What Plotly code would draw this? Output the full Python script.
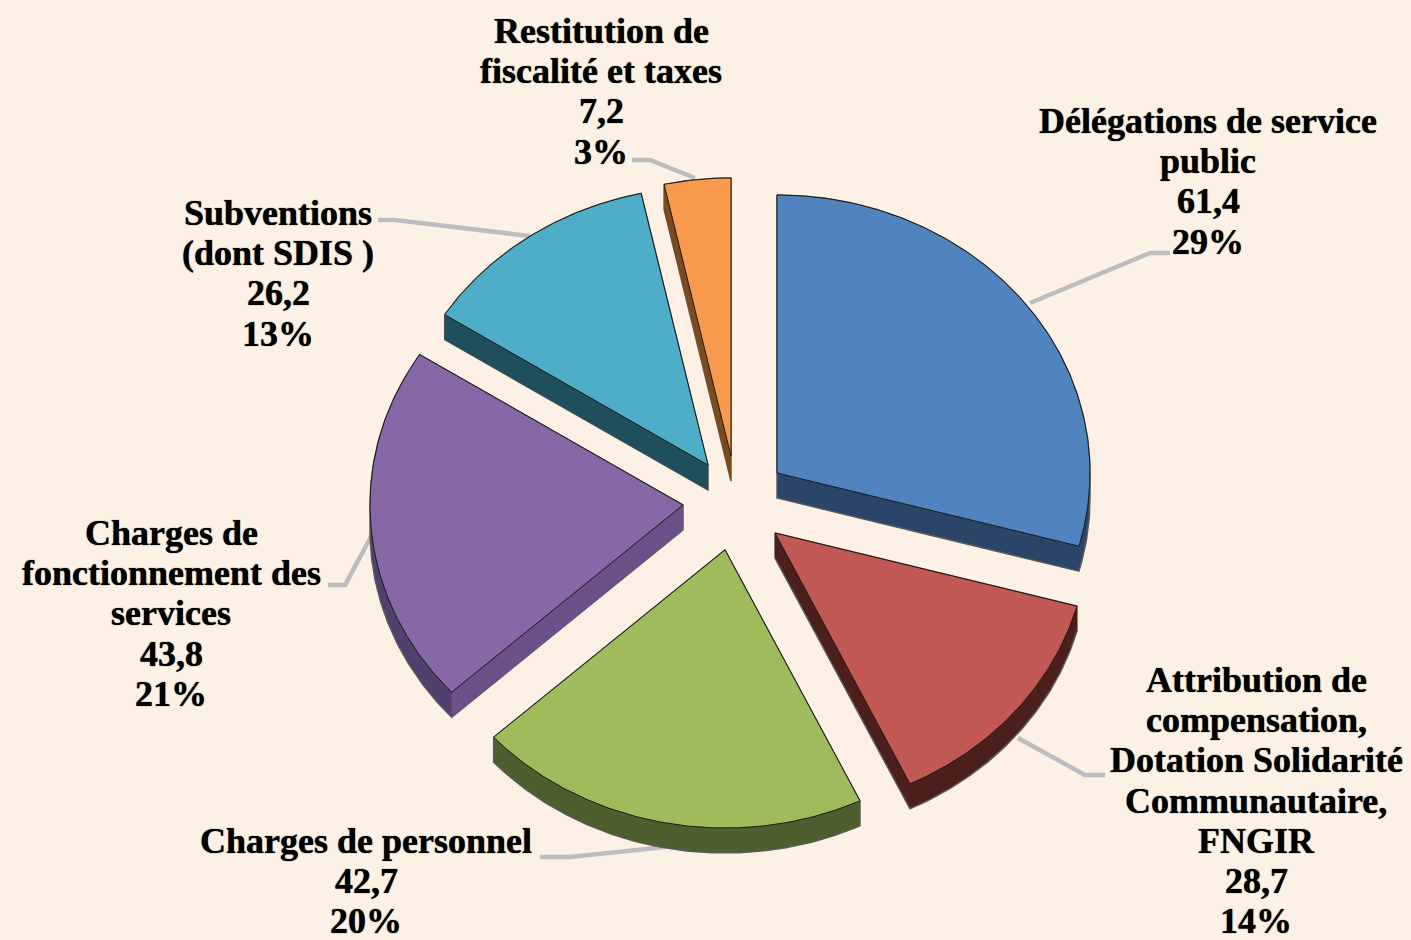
import math
import plotly.graph_objects as go

# ---- data ----
categories = ["Délégations de service<br>public",
              "Attribution de<br>compensation,<br>Dotation Solidarité<br>Communautaire,<br>FNGIR",
              "Charges de personnel",
              "Charges de<br>fonctionnement des<br>services",
              "Subventions<br>(dont SDIS )",
              "Restitution de<br>fiscalité et taxes"]
values = [61.4, 28.7, 42.7, 43.8, 26.2, 7.2]
percents = [29, 14, 20, 21, 13, 3]

# ---- style ----
top_colors = ["#5183be", "#c25853", "#9fbc5d", "#8568a5", "#4eadc7", "#f89a4d"]
rim_colors = ["#2a4568", "#4c1f1c", "#4d5f2c", "#513f6e", "#1f4f5c", "#7d4a1c"]
face_colors = ["#2a4568", "#4c1f1c", "#4d5f2c", "#6a5288", "#1f4f5c", "#7d4a1c"]
apex_x = [777, 775, 725, 683, 708, 731]
apex_y = [473, 533, 550, 505, 465, 456]
RX, RY, DEPTH = 313, 278, 25
BG = "#fdf1e6"
TEXT_FONT = dict(family="Liberation Serif", size=36, color="#000000", shadow="0 0 1px #000000")
LINE_H = 40.2
label_cx = [1208, 1256, 366, 171, 278, 601]
label_y0 = [121, 680, 841, 533, 213, 31]
leaders = [[(1030, 303), (1150, 253), (1170, 253)],
           [(1018, 738), (1085, 775), (1105, 775)],
           [(665, 847), (570, 857), (540, 857)],
           [(372, 535), (345, 585), (328, 585)],
           [(530, 236), (395, 220), (378, 220)],
           [(695, 178), (650, 160), (632, 160)]]


def hull(points):
    pts = sorted(set(points))
    def half(seq):
        out = []
        for p in seq:
            while len(out) >= 2 and (out[-1][0]-out[-2][0])*(p[1]-out[-2][1]) - (out[-1][1]-out[-2][1])*(p[0]-out[-2][0]) <= 0:
                out.pop()
            out.append(p)
        return out[:-1]
    return half(pts) + half(pts[::-1])


fig = go.Figure()

# leader lines under the slices
for name, path in zip(categories, leaders):
    fig.add_trace(go.Scatter(x=[p[0] for p in path], y=[p[1] for p in path], mode="lines",
                             line=dict(color="#bdbdbd", width=4.5), hoverinfo="skip", showlegend=False))

total = sum(values)
cum = 0.0
for i, v in enumerate(values):
    a0 = cum / total * 2 * math.pi
    cum += v
    a1 = cum / total * 2 * math.pi
    cx, cy = apex_x[i], apex_y[i]
    n = max(8, int(v * 3))
    rim = [(cx + RX * math.sin(a0 + (a1 - a0) * k / n), cy - RY * math.cos(a0 + (a1 - a0) * k / n)) for k in range(n + 1)]
    wedge = [(cx, cy)] + rim
    # extruded body
    body = hull(wedge + [(x, y + DEPTH) for x, y in wedge])
    body = body + body[:1]
    fig.add_trace(go.Scatter(x=[p[0] for p in body], y=[p[1] for p in body], mode="lines", fill="toself",
                             fillcolor=rim_colors[i], line=dict(color="#5a5a5a", width=1.5),
                             hoverinfo="skip", showlegend=False))
    # radial side face at the start of the slice
    sx, sy = rim[0]
    face = [(cx, cy), (sx, sy), (sx, sy + DEPTH), (cx, cy + DEPTH), (cx, cy)]
    fig.add_trace(go.Scatter(x=[p[0] for p in face], y=[p[1] for p in face], mode="lines", fill="toself",
                             fillcolor=face_colors[i], line=dict(color=face_colors[i], width=0),
                             hoverinfo="skip", showlegend=False))
    # top face
    closed = wedge + [(cx, cy)]
    fig.add_trace(go.Scatter(x=[p[0] for p in closed], y=[p[1] for p in closed], mode="lines", fill="toself",
                             fillcolor=top_colors[i], line=dict(color="#1a1a1a", width=1),
                             name=categories[i].replace("<br>", " "),
                             hovertemplate="%{fullData.name}<extra></extra>", showlegend=False))

annotations = []
for i, cat in enumerate(categories):
    lines = cat.split("<br>") + [f"{values[i]:.1f}".replace(".", ","), f"{percents[i]}%"]
    for j, line in enumerate(lines):
        annotations.append(dict(x=label_cx[i], y=label_y0[i] + j * LINE_H, xref="x", yref="y",
                                text=f"<b>{line}</b>", showarrow=False, font=TEXT_FONT,
                                xanchor="center", yanchor="middle"))

fig.update_layout(width=1411, height=940, margin=dict(l=0, r=0, t=0, b=0),
                  paper_bgcolor=BG, plot_bgcolor=BG, annotations=annotations,
                  xaxis=dict(range=[0, 1411], visible=False, fixedrange=True),
                  yaxis=dict(range=[940, 0], visible=False, fixedrange=True))

fig.write_html("out.html", config=dict(displayModeBar=False),
               post_script="document.body.style.margin='0';document.body.style.background='" + BG + "';")
